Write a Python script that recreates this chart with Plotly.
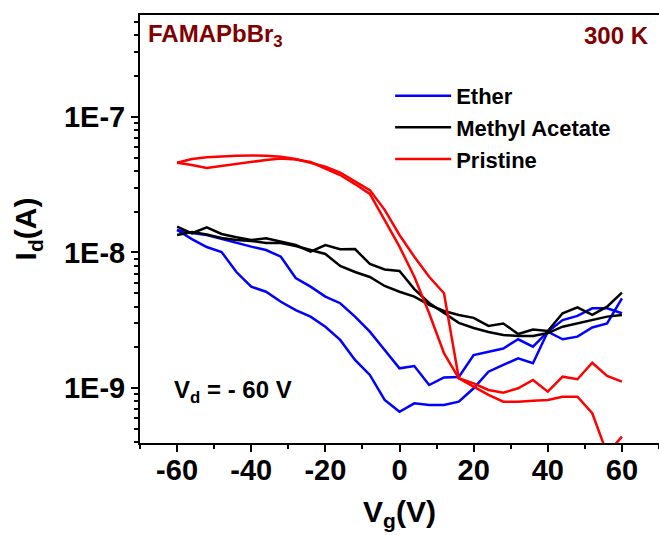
import plotly.graph_objects as go

# Gate voltage sweep (V), step 4 V
vg = [-60 + 4 * i for i in range(31)]

# Ether (blue) – two sweep branches
ether_a = [1.466e-8, 1.393e-8, 1.345e-8, 1.256e-8, 1.175e-8, 1.104e-8, 1.043e-8, 9.31e-9,
           6.49e-9, 5.60e-9, 4.73e-9, 4.23e-9, 3.37e-9, 2.61e-9, 1.914e-9, 1.403e-9,
           1.459e-9, 1.057e-9, 1.201e-9, 1.211e-9, 1.758e-9, 1.860e-9, 1.964e-9, 2.296e-9,
           2.025e-9, 2.61e-9, 2.296e-9, 2.399e-9, 2.805e-9, 3.00e-9, 4.60e-9]
ether_b = [1.466e-8, 1.256e-8, 1.098e-8, 1.009e-8, 7.18e-9, 5.60e-9, 5.14e-9, 4.34e-9,
           3.77e-9, 3.37e-9, 2.84e-9, 2.27e-9, 1.616e-9, 1.253e-9, 8.20e-10, 6.72e-10,
           7.75e-10, 7.53e-10, 7.53e-10, 7.97e-10, 1.00e-9, 1.325e-9, 1.485e-9, 1.664e-9,
           1.528e-9, 2.61e-9, 3.18e-9, 3.41e-9, 3.88e-9, 3.88e-9, 3.57e-9]

# Methyl Acetate (black)
methyl_a = [1.549e-8, 1.385e-8, 1.533e-8, 1.368e-8, 1.294e-8, 1.236e-8, 1.273e-8, 1.201e-8,
            1.135e-8, 1.014e-8, 1.135e-8, 1.056e-8, 1.06e-8, 8.23e-9, 7.50e-9, 7.31e-9,
            5.38e-9, 4.25e-9, 3.58e-9, 3.03e-9, 2.78e-9, 2.60e-9, 2.47e-9, 2.43e-9,
            2.43e-9, 2.55e-9, 2.84e-9, 3.01e-9, 3.18e-9, 3.37e-9, 3.47e-9]
methyl_b = [1.345e-8, 1.416e-8, 1.357e-8, 1.279e-8, 1.236e-8, 1.216e-8, 1.175e-8, 1.175e-8,
            1.116e-8, 1.043e-8, 9.75e-9, 7.96e-9, 7.18e-9, 6.60e-9, 5.67e-9, 5.14e-9,
            4.73e-9, 4.11e-9, 3.71e-9, 3.47e-9, 3.30e-9, 2.88e-9, 3.00e-9, 2.51e-9,
            2.71e-9, 2.64e-9, 3.57e-9, 3.95e-9, 3.47e-9, 3.99e-9, 5.06e-9]

# Pristine (red)
pristine_a = [4.58e-8, 4.88e-8, 5.02e-8, 5.11e-8, 5.16e-8, 5.18e-8, 5.16e-8, 5.07e-8,
              4.88e-8, 4.58e-8, 4.28e-8, 3.88e-8, 3.36e-8, 2.88e-8, 2.06e-8, 1.345e-8,
              9.31e-9, 6.63e-9, 5.01e-9, 1.185e-9, 1.088e-9, 9.72e-10, 9.28e-10, 1.00e-9,
              1.151e-9, 9.44e-10, 1.217e-9, 1.165e-9, 1.543e-9, 1.233e-9, 1.118e-9]
pristine_b = [4.58e-8, 4.41e-8, 4.19e-8, 4.34e-8, 4.49e-8, 4.64e-8, 4.80e-8, 4.92e-8,
              4.84e-8, 4.64e-8, 4.17e-8, 3.72e-8, 3.19e-8, 2.70e-8, 1.734e-8, 1.104e-8,
              6.63e-9, 3.57e-9, 1.811e-9, 1.185e-9, 1.027e-9, 8.93e-10, 7.97e-10, 7.97e-10,
              8.11e-10, 8.20e-10, 8.67e-10, 8.67e-10, 6.55e-10, 3.3e-10, 4.40e-10]

series = [
    ("Ether", "#0000FF", ether_a, ether_b),
    ("Methyl Acetate", "#000000", methyl_a, methyl_b),
    ("Pristine", "#FF0000", pristine_a, pristine_b),
]

x_ticks = [-60, -40, -20, 0, 20, 40, 60]
x_ticktext = ["-60", "-40", "-20", "0", "20", "40", "60"]
y_ticks = [1e-9, 1e-8, 1e-7]
y_ticktext = ["1E-9", "1E-8", "1E-7"]
y_minor = [k * 10.0 ** e for e in (-10, -9, -8, -7) for k in range(2, 10)]

FONT = "Liberation Sans, Arial, sans-serif"

fig = go.Figure()
for name, color, a, b in series:
    fig.add_trace(go.Scatter(x=vg, y=a, mode="lines", name=name,
                             line=dict(color=color, width=2.5)))
    fig.add_trace(go.Scatter(x=vg, y=b, mode="lines", name=name,
                             showlegend=False, line=dict(color=color, width=2.5)))

fig.update_layout(
    width=659, height=535,
    margin=dict(l=140, r=0, t=15, b=92),
    paper_bgcolor="white", plot_bgcolor="white",
    font=dict(family=FONT, color="black"),
    legend=dict(x=0.482, y=0.86, xanchor="left", yanchor="top",
                font=dict(family=FONT, size=22, weight="bold", color="black"),
                bgcolor="rgba(0,0,0,0)", itemwidth=56),
    xaxis=dict(range=[-70, 70], tickvals=x_ticks, ticktext=x_ticktext, showgrid=False,
               zeroline=False, showline=True, linecolor="black", linewidth=2, mirror=True,
               ticks="outside", ticklen=7, tickwidth=2, tickcolor="black",
               ticklabelstandoff=-7,
               tickfont=dict(family=FONT, size=29, weight="bold"),
               minor=dict(dtick=10, ticks="outside", ticklen=4, tickwidth=2, tickcolor="black"),
               title=dict(text="V<sub>g</sub>(V)", font=dict(family=FONT, size=30, weight="bold"),
                          standoff=16)),
    yaxis=dict(type="log", range=[-9.403, -6.251], tickvals=y_ticks, ticktext=y_ticktext,
               showgrid=False, zeroline=False, showline=True, linecolor="black", linewidth=2,
               mirror=False, ticks="outside", ticklen=7, tickwidth=2, tickcolor="black",
               tickfont=dict(family=FONT, size=29, weight="bold"),
               minor=dict(tickvals=y_minor, ticks="outside", ticklen=4, tickwidth=2,
                          tickcolor="black"),
               title=dict(text="I<sub>d</sub>(A)", font=dict(family=FONT, size=30, weight="bold"),
                          standoff=18)),
    annotations=[
        dict(text="FAMAPbBr<sub>3</sub>", xref="paper", yref="paper", x=0.012, y=0.952,
             xanchor="left", yanchor="middle", showarrow=False,
             font=dict(family=FONT, size=24, weight="bold", color="#800000")),
        dict(text="300 K", xref="paper", yref="paper", x=0.985, y=0.952,
             xanchor="right", yanchor="middle", showarrow=False,
             font=dict(family=FONT, size=24, weight="bold", color="#800000")),
        dict(text="V<sub>d</sub> = - 60 V", xref="paper", yref="paper", x=0.062, y=0.12,
             xanchor="left", yanchor="middle", showarrow=False,
             font=dict(family=FONT, size=24, weight="bold", color="black")),
    ],
)

fig.write_html("out.html")
